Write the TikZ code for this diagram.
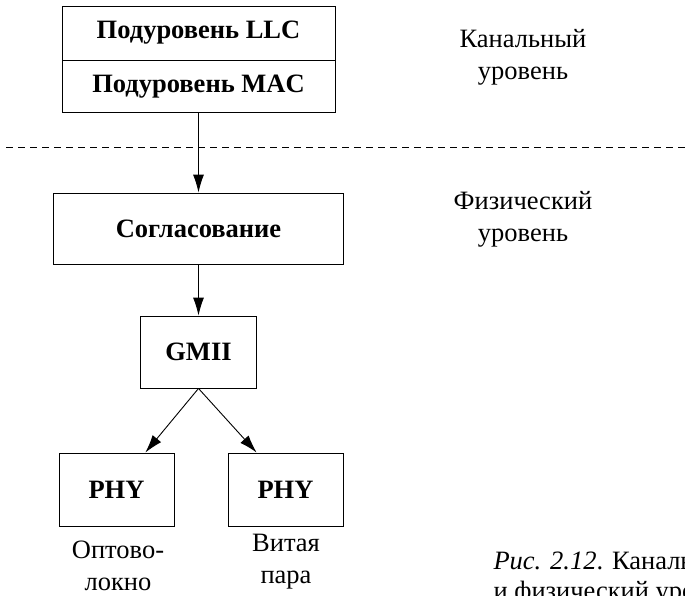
\documentclass[tikz,border=0pt]{standalone}
\usepackage{fontspec}
\setmainfont{Liberation Serif}
\usetikzlibrary{arrows.meta}
\tikzset{
	box/.style={draw, line width=0.9pt, inner sep=0pt, font=\fontsize{26.5}{30}\selectfont\bfseries},
	lbl/.style={align=center, font=\fontsize{26.5}{32}\selectfont},
	arr/.style={line width=0.9pt, -{Latex[length=18pt,width=11pt]}}
}

\begin{document}
\begin{tikzpicture}[x=1pt, y=-1pt]
			%%%%% START %%%%%
			
			\clip (0, 0) rectangle (685, 595);
			
			\node[box, minimum width=273pt, minimum height=54pt] (llc) at (198.5, 33) {Подуровень LLC};
			\node[box, minimum width=273pt, minimum height=52pt, anchor=north] (mac) at (llc.south) {Подуровень MAC};
			
			\draw[line width=0.8pt, dash pattern=on 7pt off 5pt] (6, 147) -- (685, 147);
			
			\node[box, minimum width=290pt, minimum height=71pt] (sogl) at (198.5, 228.5) {Согласование};
			\node[box, minimum width=116pt, minimum height=72pt] (gmii) at (198.5, 352) {GMII};
			
			\node[box, minimum width=115pt, minimum height=73pt] (phya) at (116.5, 489.5) {PHY};
			\node[box, minimum width=115pt, minimum height=73pt] (phyb) at (285.5, 489.5) {PHY};
			
			\draw[arr] (mac) -- (sogl);
			\draw[arr] (sogl) -- (gmii);
			\draw[arr] (gmii.south) -- (phya.52);
			\draw[arr] (gmii.south) -- (phyb.128);
			
			\node[lbl] (kanal) at (523, 57) {Канальный\\уровень};
			\node[lbl] (fiz) at (523, 219.5) {Физический\\уровень};
			
			\node[lbl] (opto) at (118, 566) {Оптово-\\локно};
			\node[lbl] (vita) at (286, 562) {Витая\\пара};
			
			\node[lbl, align=left, anchor=west, font=\fontsize{26.5}{30}\selectfont] (cap) at (490, 578) {\textit{Рис. 2.12}. Канальный\\и физический уровни};
			
			%%%%% END %%%%%
\end{tikzpicture}
\end{document}
